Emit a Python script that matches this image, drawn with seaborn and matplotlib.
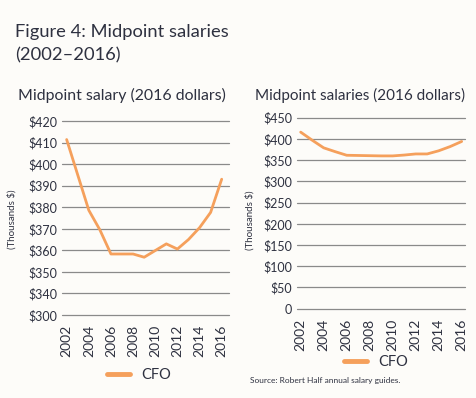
import matplotlib
matplotlib.use("Agg")
import matplotlib.pyplot as plt
import seaborn as sns
import pandas as pd

years = [2002, 2003, 2004, 2005, 2006, 2007, 2008, 2009, 2010, 2011, 2012, 2013, 2014, 2015, 2016]
cfo = [411.4, 395.0, 378.6, 369.5, 358.3, 358.3, 358.3, 356.8, 359.9, 363.0, 360.6, 365.0, 370.5, 377.6, 393.0]
cfo_right = [416.0, 397.0, 379.0, 370.0, 361.5, 361.0, 360.5, 360.0, 360.0, 362.0, 364.6, 364.6, 372.0, 382.0, 394.0]
left_ticks = [330, 340, 350, 360, 370, 380, 390, 400, 410, 420]
left_labels = ["$300", "$340", "$350", "$360", "$370", "$380", "$390", "$400", "$410", "$420"]
right_ticks = [0, 50, 100, 150, 200, 250, 300, 350, 400, 450]
right_labels = ["0", "$50", "$100", "$150", "$200", "$250", "$300", "$350", "$400", "$450"]
xticks = [2002, 2004, 2006, 2008, 2010, 2012, 2014, 2016]

sns.set_theme(style="white")
plt.rcParams["font.family"] = ["Lato", "DejaVu Sans"]

BG = "#fdfcf9"
TXT = "#2e3140"
ORANGE = "#f5a05c"
GRID = "#8a8a8a"

fig = plt.figure(figsize=(4.76, 3.98), dpi=100, facecolor=BG)

df_l = pd.DataFrame({"Year": years, "Salary": cfo, "Role": "CFO"})
df_r = pd.DataFrame({"Year": years, "Salary": cfo_right, "Role": "CFO"})

axL = fig.add_axes([62/476, 1-315/398, 167/476, 194/398])
axR = fig.add_axes([297/476, 1-308.7/398, 168/476, 191/398])

for ax, df, ticks, labels, xlim, ylim in [
    (axL, df_l, left_ticks, left_labels, (2001.58, 2016.66), (330, 420)),
    (axR, df_r, right_ticks, right_labels, (2001.68, 2016.29), (0, 450)),
]:
    ax.set_facecolor(BG)
    for t in ticks:
        ax.axhline(t, color=GRID, lw=0.9, zorder=1, clip_on=False)
    sns.lineplot(data=df, x="Year", y="Salary", hue="Role", palette=[ORANGE],
                 lw=2.0, ax=ax, zorder=3, legend=True, clip_on=False)
    ax.set_xlim(*xlim)
    ax.set_ylim(*ylim)
    ax.set_yticks(ticks)
    ax.set_yticklabels(labels, fontsize=9, color=TXT)
    ax.set_xticks(xticks)
    ax.set_xticklabels([str(x) for x in xticks], rotation=90, fontsize=10, color=TXT)
    ax.tick_params(axis="both", length=0)
    ax.tick_params(axis="y", pad=3.5)
    ax.tick_params(axis="x", pad=7)
    ax.set_xlabel("")
    ax.set_ylabel("")
    for s in ax.spines.values():
        s.set_visible(False)

axL.legend_.remove()
axR.legend_.remove()
h, l = axL.get_legend_handles_labels()
for handle in h:
    handle.set_linewidth(3.5)
fig.legend(h, ["CFO"], loc="center", bbox_to_anchor=(139/476, 1-375/398), frameon=False,
           fontsize=10.5, handlelength=1.6, labelcolor=TXT)
h2, _ = axR.get_legend_handles_labels()
for handle in h2:
    handle.set_linewidth(3.5)
fig.legend(h2, ["CFO"], loc="center", bbox_to_anchor=(376/476, 1-362/398), frameon=False,
           fontsize=10.5, handlelength=1.6, labelcolor=TXT)

fig.text(15/476, 1-32/398, "Figure 4: Midpoint salaries", fontsize=13.2, color=TXT, va="center")
fig.text(15/476, 1-55/398, "(2002\u20132016)", fontsize=13.2, color=TXT, va="center")
fig.text(18/476, 1-95/398, "Midpoint salary (2016 dollars)", fontsize=11.4, color=TXT, va="center")
fig.text(255/476, 1-95/398, "Midpoint salaries (2016 dollars)", fontsize=11, color=TXT, va="center")
fig.text(12/476, 1-219/398, "(Thousands $)", fontsize=7, color=TXT, rotation=90, va="center", ha="center")
fig.text(250/476, 1-220/398, "(Thousands $)", fontsize=7, color=TXT, rotation=90, va="center", ha="center")
fig.text(250/476, 1-381/398, "Source: Robert Half annual salary guides.", fontsize=6, color=TXT, va="center")

fig.savefig("out.png", dpi=100, facecolor=BG)
